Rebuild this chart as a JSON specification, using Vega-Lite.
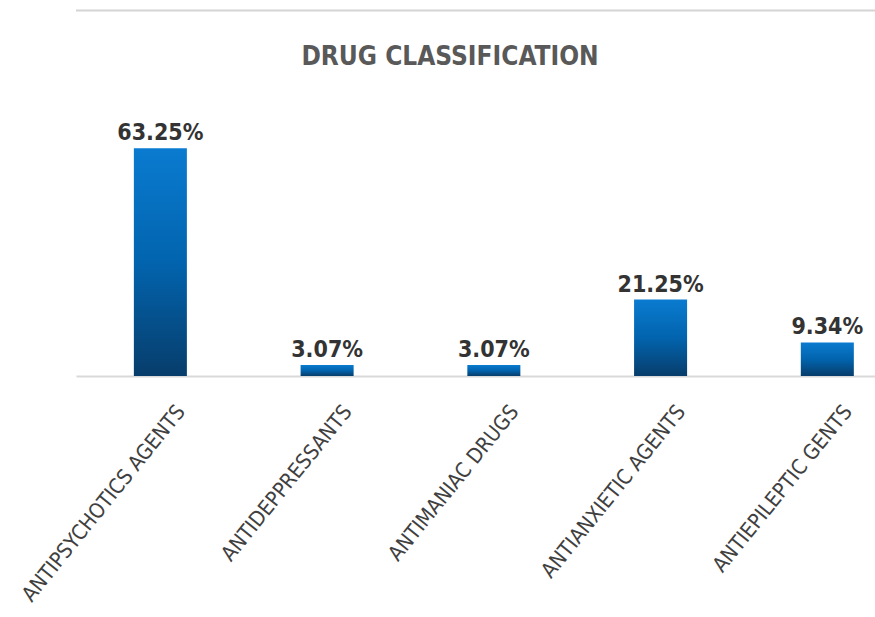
{
  "$schema": "https://vega.github.io/schema/vega-lite/v6.json",
  "width": 800,
  "height": 252,
  "autosize": {"type": "none"},
  "padding": {"left": 76, "top": 124, "right": 0, "bottom": 241},
  "background": "white",
  "title": {
    "text": "DRUG CLASSIFICATION",
    "font": "DejaVu Sans Condensed",
    "fontSize": 26,
    "fontWeight": "bold",
    "color": "#595959",
    "anchor": "middle",
    "dx": -26,
    "offset": -60
  },
  "data": {
    "values": [
      {"category": "ANTIPSYCHOTICS AGENTS", "share": 0.6325},
      {"category": "ANTIDEPPRESSANTS", "share": 0.0307},
      {"category": "ANTIMANIAC DRUGS", "share": 0.0307},
      {"category": "ANTIANXIETIC AGENTS", "share": 0.2125},
      {"category": "ANTIEPILEPTIC GENTS", "share": 0.0934}
    ]
  },
  "config": {"view": {"stroke": null}},
  "encoding": {
    "x": {
      "field": "category",
      "type": "nominal",
      "sort": null,
      "title": null,
      "scale": {"paddingInner": 0.682, "paddingOuter": 0.24, "align": 0.723},
      "axis": {
        "labelAngle": -51,
        "labelAlign": "right",
        "labelBaseline": "middle",
        "labelFont": "DejaVu Sans Condensed",
        "labelFontSize": 21,
        "labelColor": "#404040",
        "labelOffset": 21,
        "labelPadding": 32,
        "ticks": false,
        "domainColor": "#d9d9d9",
        "domainWidth": 2,
        "grid": false,
        "labelLimit": 400
      }
    },
    "y": {
      "field": "share",
      "type": "quantitative",
      "scale": {"domain": [0, 0.7]},
      "axis": null
    }
  },
  "layer": [
    {
      "mark": {
        "type": "bar",
        "color": {
          "gradient": "linear",
          "x1": 0, "y1": 0, "x2": 0, "y2": 1,
          "stops": [
            {"offset": 0, "color": "#0a7bd0"},
            {"offset": 0.5, "color": "#0264ae"},
            {"offset": 1, "color": "#073d6b"}
          ]
        }
      }
    },
    {
      "mark": {
        "type": "text",
        "baseline": "bottom",
        "dy": -3,
        "font": "DejaVu Sans Condensed",
        "fontSize": 23,
        "fontWeight": "bold",
        "color": "#333333"
      },
      "encoding": {
        "text": {"field": "share", "type": "quantitative", "format": ".2%"}
      }
    },
    {
      "data": {"values": [{"top": 1.015}]},
      "mark": {"type": "rule", "color": "#d4d4d4", "strokeWidth": 2},
      "encoding": {
        "x": null,
        "y": {"field": "top", "type": "quantitative"}
      }
    }
  ]
}
